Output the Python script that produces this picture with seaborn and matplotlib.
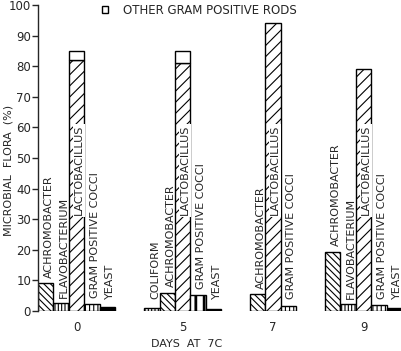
import numpy as np
import pandas as pd
import matplotlib
matplotlib.use("Agg")
import matplotlib.pyplot as plt
import seaborn as sns
from matplotlib.patches import Patch

# ---------------- data ----------------
days = ["0", "5", "7", "9"]

day0_taxa = ["ACHROMOBACTER", "FLAVOBACTERIUM", "LACTOBACILLUS", "GRAM POSITIVE COCCI", "YEAST"]
day0_values = [9.0, 2.5, 82.0, 2.3, 1.2]

day5_taxa = ["COLIFORM", "ACHROMOBACTER", "LACTOBACILLUS", "GRAM POSITIVE COCCI", "YEAST"]
day5_values = [1.0, 6.0, 81.0, 5.3, 0.8]

day7_taxa = ["ACHROMOBACTER", "LACTOBACILLUS", "GRAM POSITIVE COCCI"]
day7_values = [5.5, 94.0, 1.5]

day9_taxa = ["ACHROMOBACTER", "FLAVOBACTERIUM", "LACTOBACILLUS", "GRAM POSITIVE COCCI", "YEAST"]
day9_values = [19.3, 2.2, 79.0, 1.8, 1.0]

# "other gram positive rods", stacked on top of lactobacillus
other_rods_values = [3.0, 4.0, 0.0, 0.0]

legend_label = "OTHER GRAM POSITIVE RODS"
x_label = "DAYS  AT  7C"
y_label = "MICROBIAL  FLORA  (%)"

# ---------------- layout / style ----------------
group_centers = [0.0, 6.9, 12.76, 18.64]   # lactobacillus bar sits at the group centre
hatch_map = {
    "ACHROMOBACTER": "\\\\\\\\\\",
    "FLAVOBACTERIUM": "|||||",
    "LACTOBACILLUS": "///",
    "GRAM POSITIVE COCCI": "||||",
    "YEAST": "",
    "COLIFORM": "|||||",
}
face_map = {"YEAST": "black"}
bold_stripes = {("5", "GRAM POSITIVE COCCI")}

sns.set_style("ticks")
plt.rcParams["font.family"] = ["DejaVu Sans"]
plt.rcParams["hatch.linewidth"] = 0.8
plt.rcParams["hatch.color"] = "black"

rows = []
all_taxa = [day0_taxa, day5_taxa, day7_taxa, day9_taxa]
all_vals = [day0_values, day5_values, day7_values, day9_values]
for day, taxa, vals, c in zip(days, all_taxa, all_vals, group_centers):
    li = taxa.index("LACTOBACILLUS")
    for i, (t, v) in enumerate(zip(taxa, vals)):
        rows.append(dict(day=day, taxon=t, value=v, pos=c + (i - li)))
df = pd.DataFrame(rows)

fig = plt.figure(figsize=(4.02, 3.51), dpi=100)
ax = fig.add_axes([38 / 402, 40 / 351, 364 / 402, 306 / 351])

sns.barplot(data=df, x="pos", y="value", native_scale=True, width=1,
            color="white", saturation=1, edgecolor="black", linewidth=1,
            errorbar=None, ax=ax)

for p in ax.patches:
    cx = p.get_x() + p.get_width() / 2
    r = df.iloc[int(np.argmin(np.abs(df["pos"].values - cx)))]
    p.set_facecolor(face_map.get(r["taxon"], "white"))
    p.set_edgecolor("black")
    if (r["day"], r["taxon"]) in bold_stripes:
        p.set_hatch("||")
        if hasattr(p, "set_hatch_linewidth"):
            p.set_hatch_linewidth(2.0)
    else:
        p.set_hatch(hatch_map[r["taxon"]])

# stacked "other gram positive rods"
lac = df[df["taxon"] == "LACTOBACILLUS"].reset_index(drop=True)
for (_, r), o in zip(lac.iterrows(), other_rods_values):
    if o > 0:
        ax.bar(r["pos"], o, bottom=r["value"], width=1, color="white",
               edgecolor="black", linewidth=1)

# bar labels
for _, r in df.iterrows():
    if r["taxon"] == "LACTOBACILLUS":
        ax.text(r["pos"] + 0.15, 46, r["taxon"], rotation=90, ha="center",
                va="center", fontsize=8,
                bbox=dict(facecolor="white", edgecolor="none", pad=0.8))
    else:
        ax.text(r["pos"] + 0.2, max(r["value"], 2.2) + 1.8, r["taxon"],
                rotation=90, ha="center", va="bottom", fontsize=8)

ax.set_xlim(-2.5, 21.14)
ax.set_ylim(0, 100)
ax.set_yticks(np.arange(0, 101, 10))
ax.set_xticks(group_centers)
ax.set_xticklabels(days)
ax.tick_params(axis="x", length=0, pad=7, labelsize=8.5)
ax.tick_params(axis="y", length=4, width=1, pad=1, labelsize=8.5)
for s in ["top", "right", "bottom"]:
    ax.spines[s].set_visible(False)
ax.spines["left"].set_linewidth(1)

ax.set_xlabel(x_label, fontsize=8)
ax.set_ylabel(y_label, fontsize=8)
ax.xaxis.set_label_coords(0.407, -0.092)
ax.yaxis.set_label_coords(-0.068, 0.46)

leg = ax.legend(handles=[Patch(facecolor="white", edgecolor="black", linewidth=1)],
                labels=[legend_label], loc="center left",
                bbox_to_anchor=(102 / 402, 1 - 10 / 351), bbox_transform=fig.transFigure,
                frameon=False, fontsize=8.5, handlelength=0.55, handleheight=0.55,
                handletextpad=1.2, borderpad=0, borderaxespad=0)

fig.savefig("out.png", dpi=100)
